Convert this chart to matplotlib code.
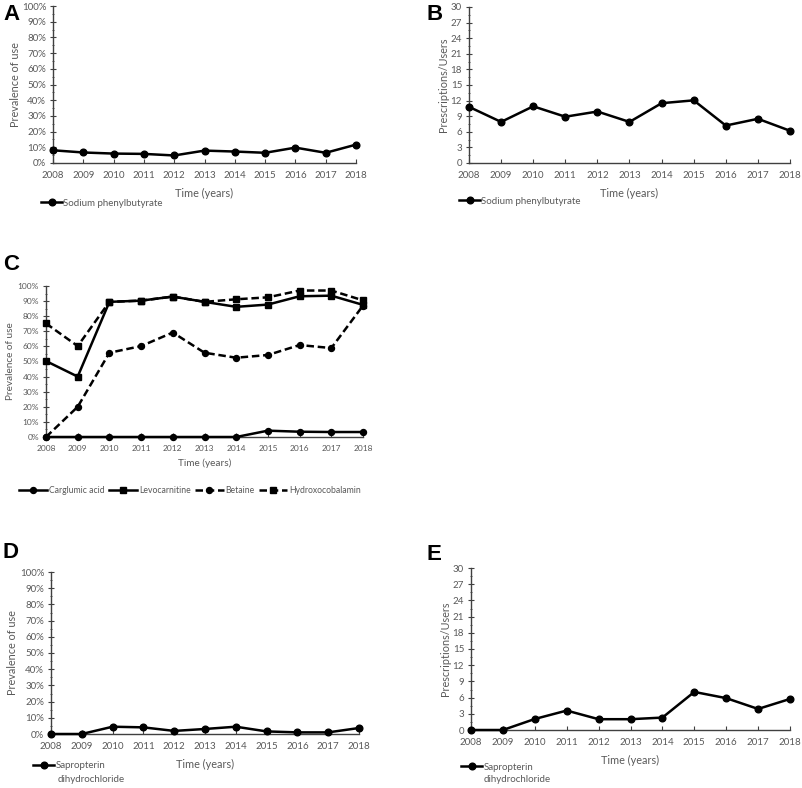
import numpy as np
import matplotlib
matplotlib.use("Agg")
import matplotlib.pyplot as plt
from matplotlib.ticker import PercentFormatter, MultipleLocator

plt.rcParams['font.family'] = ['Lato', 'DejaVu Sans']

years = list(range(2008, 2019))

# panel A / B: sodium phenylbutyrate
phenyl_prev = [8.1, 6.7, 6.0, 5.8, 4.8, 7.9, 7.3, 6.5, 9.8, 6.5, 11.7]
phenyl_rx = [10.8, 7.9, 10.9, 8.9, 9.9, 7.9, 11.5, 12.05, 7.2, 8.5, 6.2]

# panel C
carglumic = [0, 0, 0, 0, 0, 0, 0, 4.2, 3.5, 3.3, 3.3]
levocarnitine = [50.3, 40, 89.5, 90.3, 93, 89.5, 86.2, 87.7, 93.2, 93.6, 87.5]
betaine = [0, 20, 55.8, 60.2, 69.2, 55.8, 52.5, 54.3, 60.9, 58.9, 87]
hydroxo = [75.2, 60.2, 89.5, 90.3, 93, 89.5, 91.2, 92.5, 97, 97, 90.5]

# panel D / E: sapropterin dihydrochloride
sapro_prev = [0, 0, 4.5, 4.1, 1.9, 3.1, 4.5, 1.6, 1.0, 1.0, 3.7]
sapro_rx = [0, 0, 2.04, 3.6, 2.0, 2.0, 2.3, 7.05, 5.9, 3.9, 5.75]

W, H = 803, 788
fig = plt.figure(figsize=(W / 100, H / 100), dpi=100)

GREY = '#595959'
AX = '#404040'


def px_axes(l, t, r, b):
    return fig.add_axes([l / W, 1 - b / H, (r - l) / W, (b - t) / H])


def style(ax, fs, percent, ylabel, xlab_y, ylab_x, lab_fs):
    ax.set_xlim(2008, 2018)
    ax.set_xticks(years)
    ax.tick_params(axis='x', direction='in', length=3, color=AX, labelsize=fs,
                   labelcolor=GREY, pad=5.5)
    ax.tick_params(axis='y', which='both', direction='inout', color=AX,
                   labelsize=fs, labelcolor=GREY, pad=3)
    ax.tick_params(axis='y', which='major', length=4)
    ax.tick_params(axis='y', which='minor', length=2)
    if percent:
        ax.set_ylim(0, 100)
        ax.yaxis.set_major_locator(MultipleLocator(10))
        ax.yaxis.set_minor_locator(MultipleLocator(5))
        ax.yaxis.set_major_formatter(PercentFormatter(100, decimals=0))
    else:
        ax.set_ylim(0, 30)
        ax.yaxis.set_major_locator(MultipleLocator(3))
        ax.yaxis.set_minor_locator(MultipleLocator(1.5))
    for s in ['top', 'right']:
        ax.spines[s].set_visible(False)
    for s in ['left', 'bottom']:
        ax.spines[s].set_color(AX)
        ax.spines[s].set_linewidth(1.0)
    ax.set_xlabel('Time (years)', fontsize=lab_fs, color=GREY)
    ax.xaxis.set_label_coords(0.5, xlab_y)
    ax.set_ylabel(ylabel, fontsize=lab_fs, color=GREY)
    ax.yaxis.set_label_coords(ylab_x, 0.5)


def line(ax, y, marker, ls, label, ms=4.8):
    ax.plot(years, y, color='black', lw=1.8, ls=ls, marker=marker, ms=ms,
            label=label, clip_on=False, zorder=3)


def legend(ax, x, y, fs=7, **kw):
    opts = dict(handlelength=2.2, handletextpad=0.1)
    opts.update(kw)
    ax.legend(loc='center left', bbox_to_anchor=(x / W, 1 - y / H),
              bbox_transform=fig.transFigure, frameon=False, fontsize=fs,
              borderaxespad=0, borderpad=0, labelcolor=GREY, **opts)


# A
axA = px_axes(53, 6, 356, 163)
line(axA, phenyl_prev, 'o', '-', 'Sodium phenylbutyrate')
style(axA, 7, True, 'Prevalence of use', -0.16, -0.105, 7.8)
legend(axA, 41, 203)

# B
axB = px_axes(469, 7, 790, 163)
line(axB, phenyl_rx, 'o', '-', 'Sodium phenylbutyrate')
style(axB, 7, False, 'Prescriptions/Users', -0.16, -0.062, 7.8)
legend(axB, 459, 201)

# C
axC = px_axes(46, 286, 363, 437)
dash = (0, (3, 1.5))
line(axC, carglumic, 'o', '-', 'Carglumic acid', ms=4.3)
line(axC, levocarnitine, 's', '-', 'Levocarnitine', ms=3.8)
line(axC, betaine, 'o', dash, 'Betaine', ms=4.3)
line(axC, hydroxo, 's', dash, 'Hydroxocobalamin', ms=3.8)
style(axC, 6, True, 'Prevalence of use', -0.142, -0.098, 7.2)
legend(axC, 19, 491, fs=6.2, ncol=4, handlelength=3.3, handletextpad=0.2,
       columnspacing=0.5)

# D
axD = px_axes(51, 572, 359, 734)
line(axD, sapro_prev, 'o', '-', 'Sapropterin')
style(axD, 7, True, 'Prevalence of use', -0.154, -0.107, 7.8)
legend(axD, 33, 766)
fig.text(58 / W, 1 - 779 / H, 'dihydrochloride', fontsize=7, color=GREY,
         va='center', ha='left')

# E
axE = px_axes(471, 568, 790, 730)
line(axE, sapro_rx, 'o', '-', 'Sapropterin')
style(axE, 7, False, 'Prescriptions/Users', -0.154, -0.062, 7.8)
legend(axE, 461, 767)
fig.text(484 / W, 1 - 780 / H, 'dihydrochloride', fontsize=7, color=GREY,
         va='center', ha='left')

# panel letters
for lab, x, y in [('A', 3, 15), ('B', 427, 15), ('C', 3, 265), ('D', 3, 553), ('E', 427, 555)]:
    fig.text(x / W, 1 - y / H, lab, fontsize=16, fontweight='bold',
             family='Liberation Sans', va='center', ha='left')

fig.savefig('out.png', dpi=100)
